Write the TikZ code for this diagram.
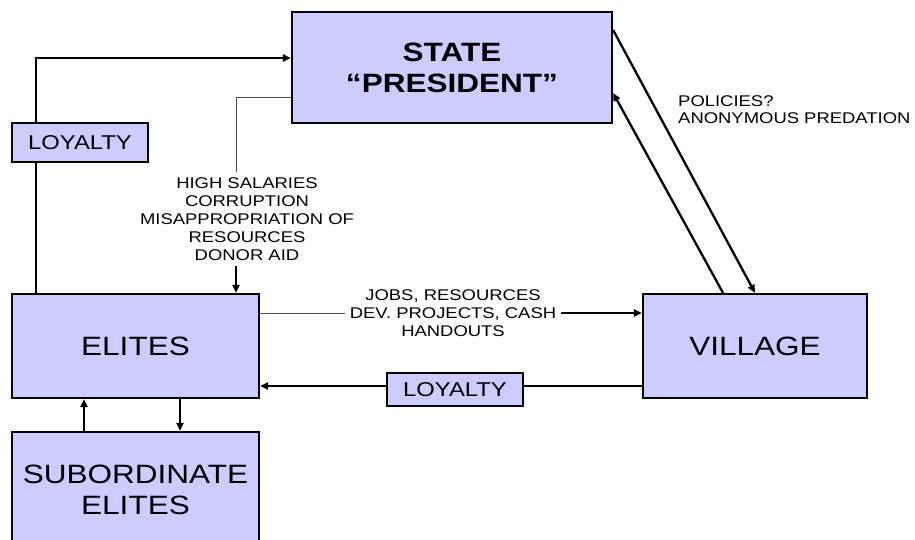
\documentclass[tikz,border=0pt]{standalone}
\usepackage{fontspec}
\setmainfont{Liberation Sans}[FakeStretch=1.19]
\usetikzlibrary{arrows.meta}
\definecolor{boxfill}{HTML}{CCCCFF}
\begin{document}
\begin{tikzpicture}[x=1pt,y=-1pt,
  box/.style={draw=black, line width=2.2pt, fill=boxfill, inner sep=0pt, align=center},
  big/.style={font=\fontsize{26.5}{31}\selectfont},
  tag/.style={box, line width=1.8pt, font=\fontsize{20}{24}\selectfont},
  lbl/.style={align=center, inner sep=5pt, font=\fontsize{15.5}{18}\selectfont},
  flow/.style={line width=2.3pt, -{Triangle[length=8pt,width=7pt]}},
  link/.style={line width=2.3pt},
  plain/.style={line width=1.5pt},
  thinlink/.style={line width=1pt, draw=black!70}]
\useasboundingbox (0,0) rectangle (915,539);

% boxes
\node[box,big,minimum width=320pt,minimum height=111pt] (state) at (452,67.5)
  {\textbf{STATE}\\\textbf{“PRESIDENT”}};
\node[box,big,minimum width=247pt,minimum height=104pt] (elites) at (135.5,346) {ELITES};
\node[box,big,minimum width=224pt,minimum height=104pt] (village) at (755,346) {VILLAGE};
\node[box,big,minimum width=247pt,minimum height=116pt] (sub) at (135.5,490)
  {SUBORDINATE\\ELITES};
\node[tag,minimum width=136pt,minimum height=39pt] (loy1) at (80,142.5) {LOYALTY};
\node[tag,minimum width=136pt,minimum height=33pt] (loy2) at (455,389.5) {LOYALTY};

% flow labels
\node[lbl] (sal) at (247,219) {HIGH SALARIES\\CORRUPTION\\MISAPPROPRIATION OF\\RESOURCES\\DONOR AID};
\node[lbl] (jobs) at (453,313) {JOBS, RESOURCES\\DEV. PROJECTS, CASH\\HANDOUTS};
\node[align=left, inner sep=0pt, anchor=west, font=\fontsize{15.5}{17}\selectfont] (pol) at (678,110)
  {POLICIES?\\ANONYMOUS PREDATION};

% elites -> state, through loyalty
\coordinate (up) at (36,58);
\draw[link] (elites.north -| up) -- (loy1.south -| up);
\draw[flow] (loy1.north -| up) -- (up) -- (state.west |- up);

% state -> elites
\coordinate (sb) at (236,97);
\draw[thinlink] (state.west |- sb) -- (sb) -- (sb |- sal.north);
\draw[flow] (sb |- sal.south) -- (sb |- elites.north);

% elites -> village
\coordinate (jy) at (0,313);
\draw[thinlink] (elites.east |- jy) -- (jobs.west |- jy);
\draw[flow] (jobs.east |- jy) -- (village.west |- jy);

% village -> elites, through loyalty
\coordinate (ly) at (0,386);
\draw[plain] (village.west |- ly) -- (loy2.east |- ly);
\draw[flow] (loy2.west |- ly) -- (elites.east |- ly);

% elites <-> subordinate elites
\coordinate (ua) at (84,0);
\coordinate (da) at (180,0);
\draw[flow] (sub.north -| ua) -- (elites.south -| ua);
\draw[flow] (elites.south -| da) -- (sub.north -| da);

% state <-> village
\coordinate (d1) at (0,30);
\coordinate (e1) at (755,0);
\coordinate (d2) at (0,93);
\coordinate (e2) at (723,0);
\draw[flow] (state.east |- d1) -- (village.north -| e1);
\draw[flow] (village.north -| e2) -- (state.east |- d2);
\end{tikzpicture}
\end{document}
